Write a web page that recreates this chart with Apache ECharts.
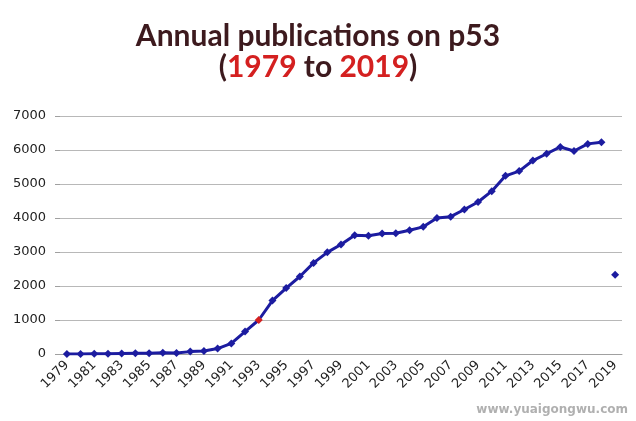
<!DOCTYPE html>
<html>
<head>
<meta charset="utf-8">
<script src="https://cdn.jsdelivr.net/npm/echarts@6/dist/echarts.min.js"></script>
<style>
  html, body { margin: 0; padding: 0; background: #fff; }
  #chart { width: 636px; height: 421px; }
</style>
</head>
<body>
<div id="chart"></div>
<script>
// 年份
const years = []
for (let y = 1979; y <= 2019; y++) years.push(String(y))

// 每年发表数量 (1979-2018 连线)
const publications = [
  0, 0, 5, 5, 15, 25, 25, 40, 30, 70,
  90, 160, 310, 660, 1000, 1570, 1940, 2280, 2680, 2990,
  3220, 3495, 3475, 3545, 3550, 3640, 3740, 4000, 4040, 4250,
  4470, 4790, 5240, 5380, 5690, 5890, 6090, 5970, 6180, 6230
]
// 2019 单独一个点
const partial2019 = 2330
const highlightYear = '1993'

const yTicks = [0, 1000, 2000, 3000, 4000, 5000, 6000, 7000]

const chart = echarts.init(document.getElementById('chart'))

const lineData = publications.map((v, i) => {
  if (years[i] === highlightYear) {
    return { value: v, itemStyle: { color: '#d42020' } }
  }
  return v
})
lineData.push(null)

const lastData = years.map(y => (y === '2019' ? partial2019 : null))

const option = {
  animation: false,
  title: {
    left: 'center',
    top: 16,
    text: '{a|Annual publications on p53}\n{b|(}{r|1979}{b| to }{r|2019}{b|)}',
    textStyle: {
      rich: {
        a: { fontFamily: 'Lato', fontWeight: 'bold', fontSize: 30, color: '#3d1a1e', lineHeight: 31 },
        b: { fontFamily: 'Lato', fontWeight: 'bold', fontSize: 30, color: '#3d1a1e', lineHeight: 31 },
        r: { fontFamily: 'Lato', fontWeight: 'bold', fontSize: 30, color: '#d42020', lineHeight: 31 }
      }
    }
  },
  grid: {
    left: 60,
    right: 14,
    top: 116,
    bottom: 67
  },
  xAxis: {
    type: 'category',
    boundaryGap: true,
    data: years,
    axisLine: { lineStyle: { color: '#a0a0a0' } },
    axisTick: { interval: 0, length: 5, lineStyle: { color: '#a0a0a0' } },
    axisLabel: {
      interval: 1,
      rotate: 45,
      fontFamily: 'DejaVu Sans',
      fontSize: 13,
      color: '#222',
      margin: 9
    }
  },
  yAxis: {
    type: 'value',
    min: yTicks[0],
    max: yTicks[yTicks.length - 1],
    interval: 1000,
    axisLine: { show: false },
    axisTick: { show: true, length: 5, lineStyle: { color: '#a0a0a0' } },
    axisLabel: {
      formatter: v => String(v),
      fontFamily: 'DejaVu Sans',
      fontSize: 13,
      color: '#222',
      margin: 14
    },
    splitLine: { lineStyle: { color: '#b8b8b8' } }
  },
  series: [
    {
      type: 'line',
      data: lineData,
      symbol: 'diamond',
      symbolSize: 8,
      lineStyle: { color: '#1c1ca0', width: 3 },
      itemStyle: { color: '#1c1ca0' }
    },
    {
      type: 'line',
      data: lastData,
      symbol: 'diamond',
      symbolSize: 8,
      showSymbol: true,
      lineStyle: { width: 0 },
      itemStyle: { color: '#1c1ca0' }
    }
  ],
  graphic: [
    {
      type: 'text',
      right: 8,
      bottom: 5,
      style: {
        text: 'www.yuaigongwu.com',
        fontFamily: 'DejaVu Sans',
        fontWeight: 'bold',
        fontSize: 12,
        fill: '#b0b0b0'
      }
    }
  ]
}

chart.setOption(option)
window.addEventListener('resize', () => chart.resize())
</script>
</body>
</html>
